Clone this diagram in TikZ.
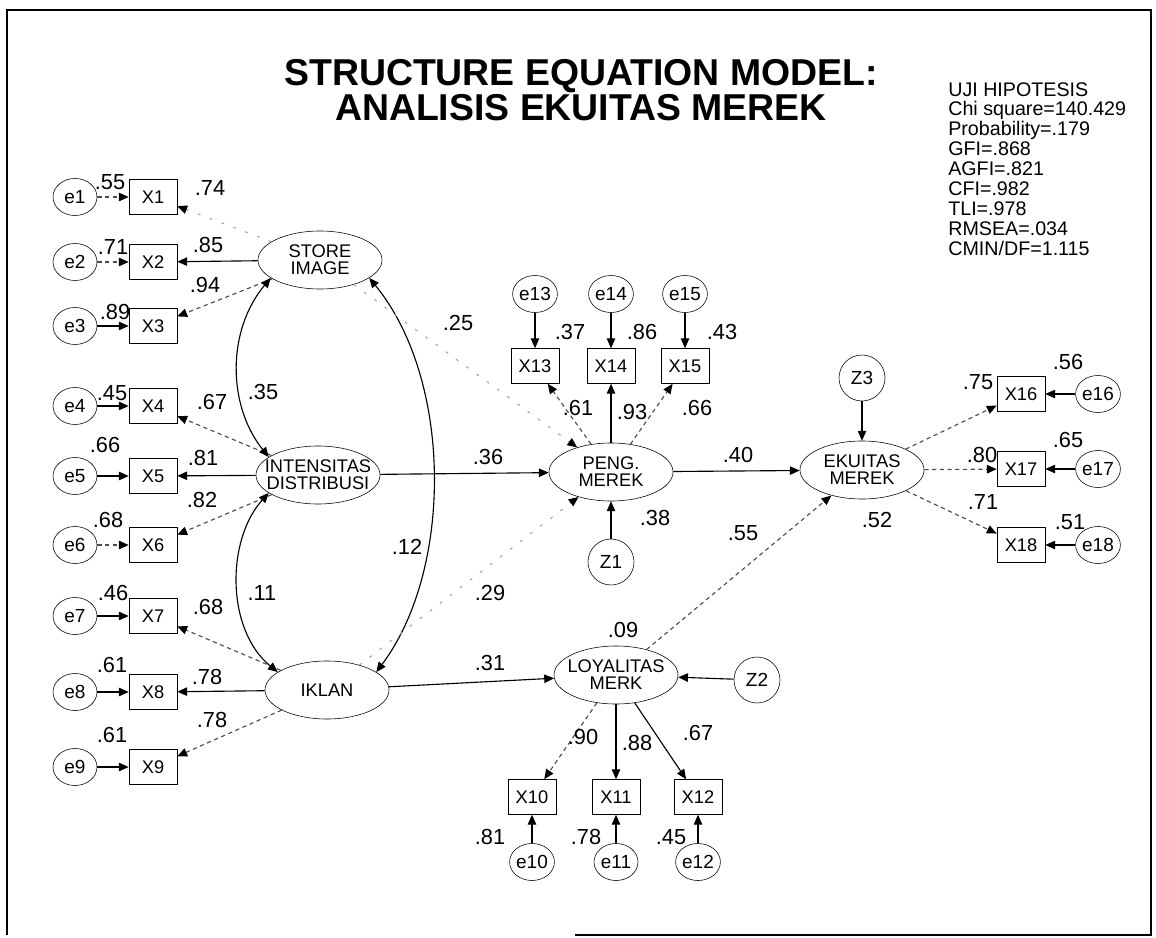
\documentclass[tikz,border=0pt]{standalone}
\usepackage{fontspec}
\setmainfont{Liberation Sans}
\usetikzlibrary{shapes.geometric,arrows.meta}

\newcommand{\squeeze}[1]{\makebox[0pt]{#1}}

\begin{document}
\begin{tikzpicture}[x=0.025cm, y=-0.025cm,
    obs/.style={draw, rectangle, minimum width=1.2cm, minimum height=0.875cm, inner sep=0pt, font=\fontsize{13}{12}\selectfont},
    lat/.style={draw, ellipse, minimum width=3.1cm, minimum height=1.45cm, inner sep=0pt, align=center, font=\fontsize{13}{12}\selectfont},
    err/.style={draw, ellipse, minimum width=1.1cm, minimum height=0.925cm, inner sep=0pt, font=\fontsize{13.5}{12}\selectfont},
    res/.style={draw, circle, minimum size=1.15cm, inner sep=0pt, font=\fontsize{13.5}{12}\selectfont},
    coef/.style={inner sep=0pt, font=\fontsize{15.5}{15}\selectfont},
    arr/.style={-{Triangle[length=7pt,width=6pt,color=black]}, line width=0.8pt},
    weak/.style={arr, dash pattern=on 3pt off 2.5pt, draw=black!70},
    faint/.style={arr, dash pattern=on 2pt off 7pt, draw=black!35},
    cov/.style={{Triangle[length=7pt,width=6pt]}-{Triangle[length=7pt,width=6pt]}, line width=0.8pt}
  ]
    \useasboundingbox (0,0) rectangle (1156,938);

    % Frame
    \draw[line width=1.5pt] (575,935) -- (1151,935) -- (1151,10) -- (7,10) -- (7,935);

    % Title and fit indices
    \node[font=\fontsize{26.6}{24.8}\selectfont\bfseries, align=center, inner sep=0pt] (title) at (581,90)
      {STRUCTURE EQUATION MODEL:\\ANALISIS EKUITAS MEREK};
    \node[font=\fontsize{14}{14.2}\selectfont, align=left, anchor=north west, inner sep=0pt] (fit) at (948,82)
      {UJI HIPOTESIS\\Chi square=140.429\\Probability=.179\\GFI=.868\\AGFI=.821\\CFI=.982\\TLI=.978\\RMSEA=.034\\CMIN/DF=1.115};

    % Indicators of the exogenous constructs
    \foreach \n/\y in {1/197,2/262,3/326,4/406,5/476,6/545,7/616,8/692,9/767} {
      \node[err] (e\n) at (75,\y) {e\n};
      \node[obs] (x\n) at (153,\y) {X\n};
    }

    % Latent variables
    \node[lat] (si) at (320,260) {\squeeze{STORE}\\\squeeze{IMAGE}};
    \node[lat] (id) at (318,475) {\squeeze{INTENSITAS}\\\squeeze{DISTRIBUSI}};
    \node[lat] (ik) at (327,690) {IKLAN};
    \node[lat] (pm) at (611,472) {\squeeze{PENG.}\\\squeeze{MEREK}};
    \node[lat] (lm) at (616,675) {\squeeze{LOYALITAS}\\\squeeze{MERK}};
    \node[lat] (em) at (862,470) {\squeeze{EKUITAS}\\\squeeze{MEREK}};

    % Disturbances
    \node[res] (z1) at (611,562) {Z1};
    \node[res] (z2) at (757,680) {Z2};
    \node[res] (z3) at (862,378) {Z3};

    % Indicators of the endogenous constructs
    \foreach \n/\x in {13/535,14/611,15/685} {
      \node[obs] (x\n) at (\x,366) {X\n};
      \node[err] (e\n) at (\x,294) {e\n};
    }
    \foreach \n/\x in {10/532,11/616,12/698} {
      \node[obs] (x\n) at (\x,797) {X\n};
      \node[err] (e\n) at (\x,862) {e\n};
    }
    \foreach \n/\y in {16/394,17/469,18/545} {
      \node[obs] (x\n) at (1021,\y) {X\n};
      \node[err] (e\n) at (1098,\y) {e\n};
    }

    % Error arrows
    \foreach \n/\s in {1/weak,2/weak,3/arr,4/arr,5/arr,6/weak,7/arr,8/arr,9/arr,
                       10/arr,11/arr,12/arr,13/arr,14/arr,15/arr,16/arr,17/arr,18/arr}
      \draw[\s] (e\n) -- (x\n);

    % Loadings
    \foreach \n/\s in {1/faint,2/arr,3/weak} \draw[\s] (si) -- (x\n);
    \foreach \n/\s in {4/weak,5/arr,6/weak} \draw[\s] (id) -- (x\n);
    \foreach \n/\s in {7/weak,8/arr,9/weak} \draw[\s] (ik) -- (x\n);
    \foreach \n/\s in {13/weak,14/arr,15/weak} \draw[\s] (pm) -- (x\n);
    \foreach \n/\s in {10/weak,11/arr,12/arr} \draw[\s] (lm) -- (x\n);
    \foreach \n/\s in {16/weak,17/weak,18/weak} \draw[\s] (em) -- (x\n);

    % Correlations
    \draw[cov] (si.200) .. controls (227,330) and (227,405) .. (id.160);
    \draw[cov] (id.200) .. controls (226,540) and (226,630) .. (ik.160);
    \draw[cov] (si.340) .. controls (453,380) and (453,570) .. (ik.20);

    % Structural paths
    \draw[faint] (si) -- (pm);
    \draw[arr] (id) -- (pm);
    \draw[faint] (ik) -- (pm);
    \draw[arr] (ik) -- (lm);
    \draw[arr] (pm) -- (em);
    \draw[weak] (lm) -- (em);
    \draw[arr] (z1) -- (pm);
    \draw[arr] (z2) -- (lm);
    \draw[arr] (z3) -- (em);

    % Estimates
    \foreach \t/\x/\y [count=\k] in {.55/110/182, .74/210/188, .71/113/247, .85/208/245,
        .94/205/285, .89/115/312, .45/112/393, .67/212/402, .35/263/392, .66/105/445,
        .81/203/458, .82/202/500, .68/108/520, .46/113/593, .68/208/607, .11/262/593,
        .61/112/665, .78/207/677, .61/112/735, .78/212/720, .25/458/323, .12/407/547,
        .36/488/457, .29/490/593, .31/490/663, .40/738/455, .38/655/518, .55/743/533,
        .09/623/630, .52/877/520, .37/570/332, .86/642/332, .43/722/332, .61/578/408,
        .93/632/412, .66/697/408, .90/583/737, .88/637/743, .67/698/733, .81/490/837,
        .78/586/837, .45/671/837, .56/1068/362, .75/978/382, .65/1068/440, .80/982/455,
        .51/1070/522, .71/983/502}
      \node[coef] (c\k) at (\x,\y) {\t};

\end{tikzpicture}
\end{document}
